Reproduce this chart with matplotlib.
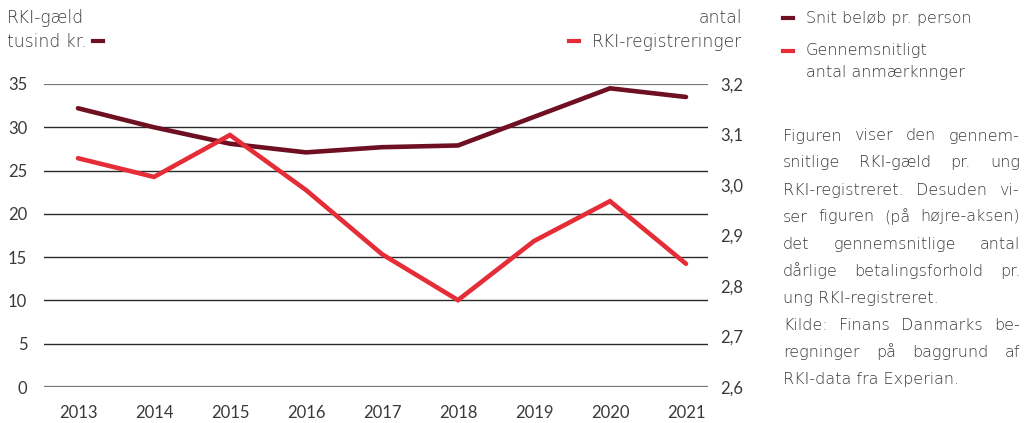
import matplotlib
matplotlib.use("Agg")
import matplotlib.pyplot as plt

plt.rcParams["font.family"] = ["Lato", "DejaVu Sans"]

years = [2013, 2014, 2015, 2016, 2017, 2018, 2019, 2020, 2021]
debt = [32.2, 30.0, 28.1, 27.1, 27.7, 27.9, 31.2, 34.5, 33.5]        # tusind kr. (left)
remarks = [3.053, 3.016, 3.099, 2.990, 2.863, 2.772, 2.889, 2.968, 2.844]  # antal (right)

left_ticks = [0, 5, 10, 15, 20, 25, 30, 35]
right_ticks = [2.6, 2.7, 2.8, 2.9, 3.0, 3.1, 3.2]
right_labels = ["2,6", "2,7", "2,8", "2,9", "3,0", "3,1", "3,2"]

note_lines = [
    ("Figuren viser den gennem-", True),
    ("snitlige RKI-gæld pr. ung", True),
    ("RKI-registreret. Desuden vi-", True),
    ("ser figuren (på højre-aksen)", True),
    ("det gennemsnitlige antal", True),
    ("dårlige betalingsforhold pr.", True),
    ("ung RKI-registreret.", False),
    ("Kilde: Finans Danmarks be-", True),
    ("regninger på baggrund af", True),
    ("RKI-data fra Experian.", False),
]

dark = "#6e0f22"
red = "#e52d38"
txt = "#3a3a3a"
W, H = 1030, 423
tf = dict(family=["DejaVu Sans"], fontweight="light", color=txt, va="center")

fig = plt.figure(figsize=(W / 100, H / 100), dpi=100)
ax = fig.add_axes([44 / W, (H - 387) / H, (708 - 44) / W, (387 - 84) / H])
ax2 = ax.twinx()

ax.set_xlim(2013 - 34 / 76, 2021 + 22 / 76)
ax.set_ylim(0, 35)
ax2.set_ylim(2.6, 3.2)

for v in left_ticks:
    c, lw = ("#777777", 1.6) if v in (0, 35) else ("#2a2a2a", 1.0)
    ax.axhline(v, color=c, lw=lw, zorder=1)

ax.plot(years, debt, color=dark, lw=3.3, solid_capstyle="round", solid_joinstyle="miter", zorder=3)
ax2.plot(years, remarks, color=red, lw=3.3, solid_capstyle="round", solid_joinstyle="miter", zorder=3)

for a in (ax, ax2):
    for s in a.spines.values():
        s.set_visible(False)

ax.set_yticks(left_ticks)
ax.set_yticklabels([str(v) for v in left_ticks])
ax.set_xticks(years)
ax.tick_params(axis="y", length=0, pad=12, labelsize=12, labelcolor=txt)
ax.tick_params(axis="x", length=0, pad=13, labelsize=12, labelcolor=txt)
ax2.set_yticks(right_ticks)
ax2.set_yticklabels(right_labels)
ax2.tick_params(axis="y", length=0, pad=9, labelsize=12, labelcolor=txt)

def fx(x):
    return x / W

def fy(y):
    return 1 - y / H

def dash(x, y, color):
    fig.lines.append(plt.Line2D([fx(x), fx(x + 10)], [fy(y), fy(y)],
                                transform=fig.transFigure, color=color, lw=3))

# axis headers
fig.text(fx(7), fy(18), "RKI-gæld", fontsize=12.3, **tf)
fig.text(fx(7), fy(42), "tusind kr.", fontsize=12.3, **tf)
dash(93, 41, dark)
fig.text(fx(742), fy(18), "antal", fontsize=12.3, ha="right", **tf)
fig.text(fx(742), fy(42), "RKI-registreringer", fontsize=12.3, ha="right", **tf)
dash(569, 41, red)

# legend
dash(783, 18, dark)
fig.text(fx(806), fy(18), "Snit beløb pr. person", fontsize=11.5, **tf)
dash(783, 51, red)
fig.text(fx(806), fy(51), "Gennemsnitligt", fontsize=11.5, **tf)
fig.text(fx(806), fy(72), "antal anmærknnger", fontsize=11.5, **tf)

# justified note
x0, x1 = 783, 1020
renderer = fig.canvas.get_renderer()
for i, (line, justify) in enumerate(note_lines):
    y = fy(136 + i * 27.0)
    if not justify:
        fig.text(fx(x0), y, line, fontsize=11.5, **tf)
        continue
    words = line.split(" ")
    widths = []
    for w in words:
        t = fig.text(0, 0, w, fontsize=11.5, family=["DejaVu Sans"], fontweight="light")
        widths.append(t.get_window_extent(renderer).width)
        t.remove()
    gap = (x1 - x0 - sum(widths)) / max(len(words) - 1, 1)
    x = x0
    for w, wd in zip(words, widths):
        fig.text(fx(x), y, w, fontsize=11.5, **tf)
        x += wd + gap

fig.savefig("out.png", dpi=100)
